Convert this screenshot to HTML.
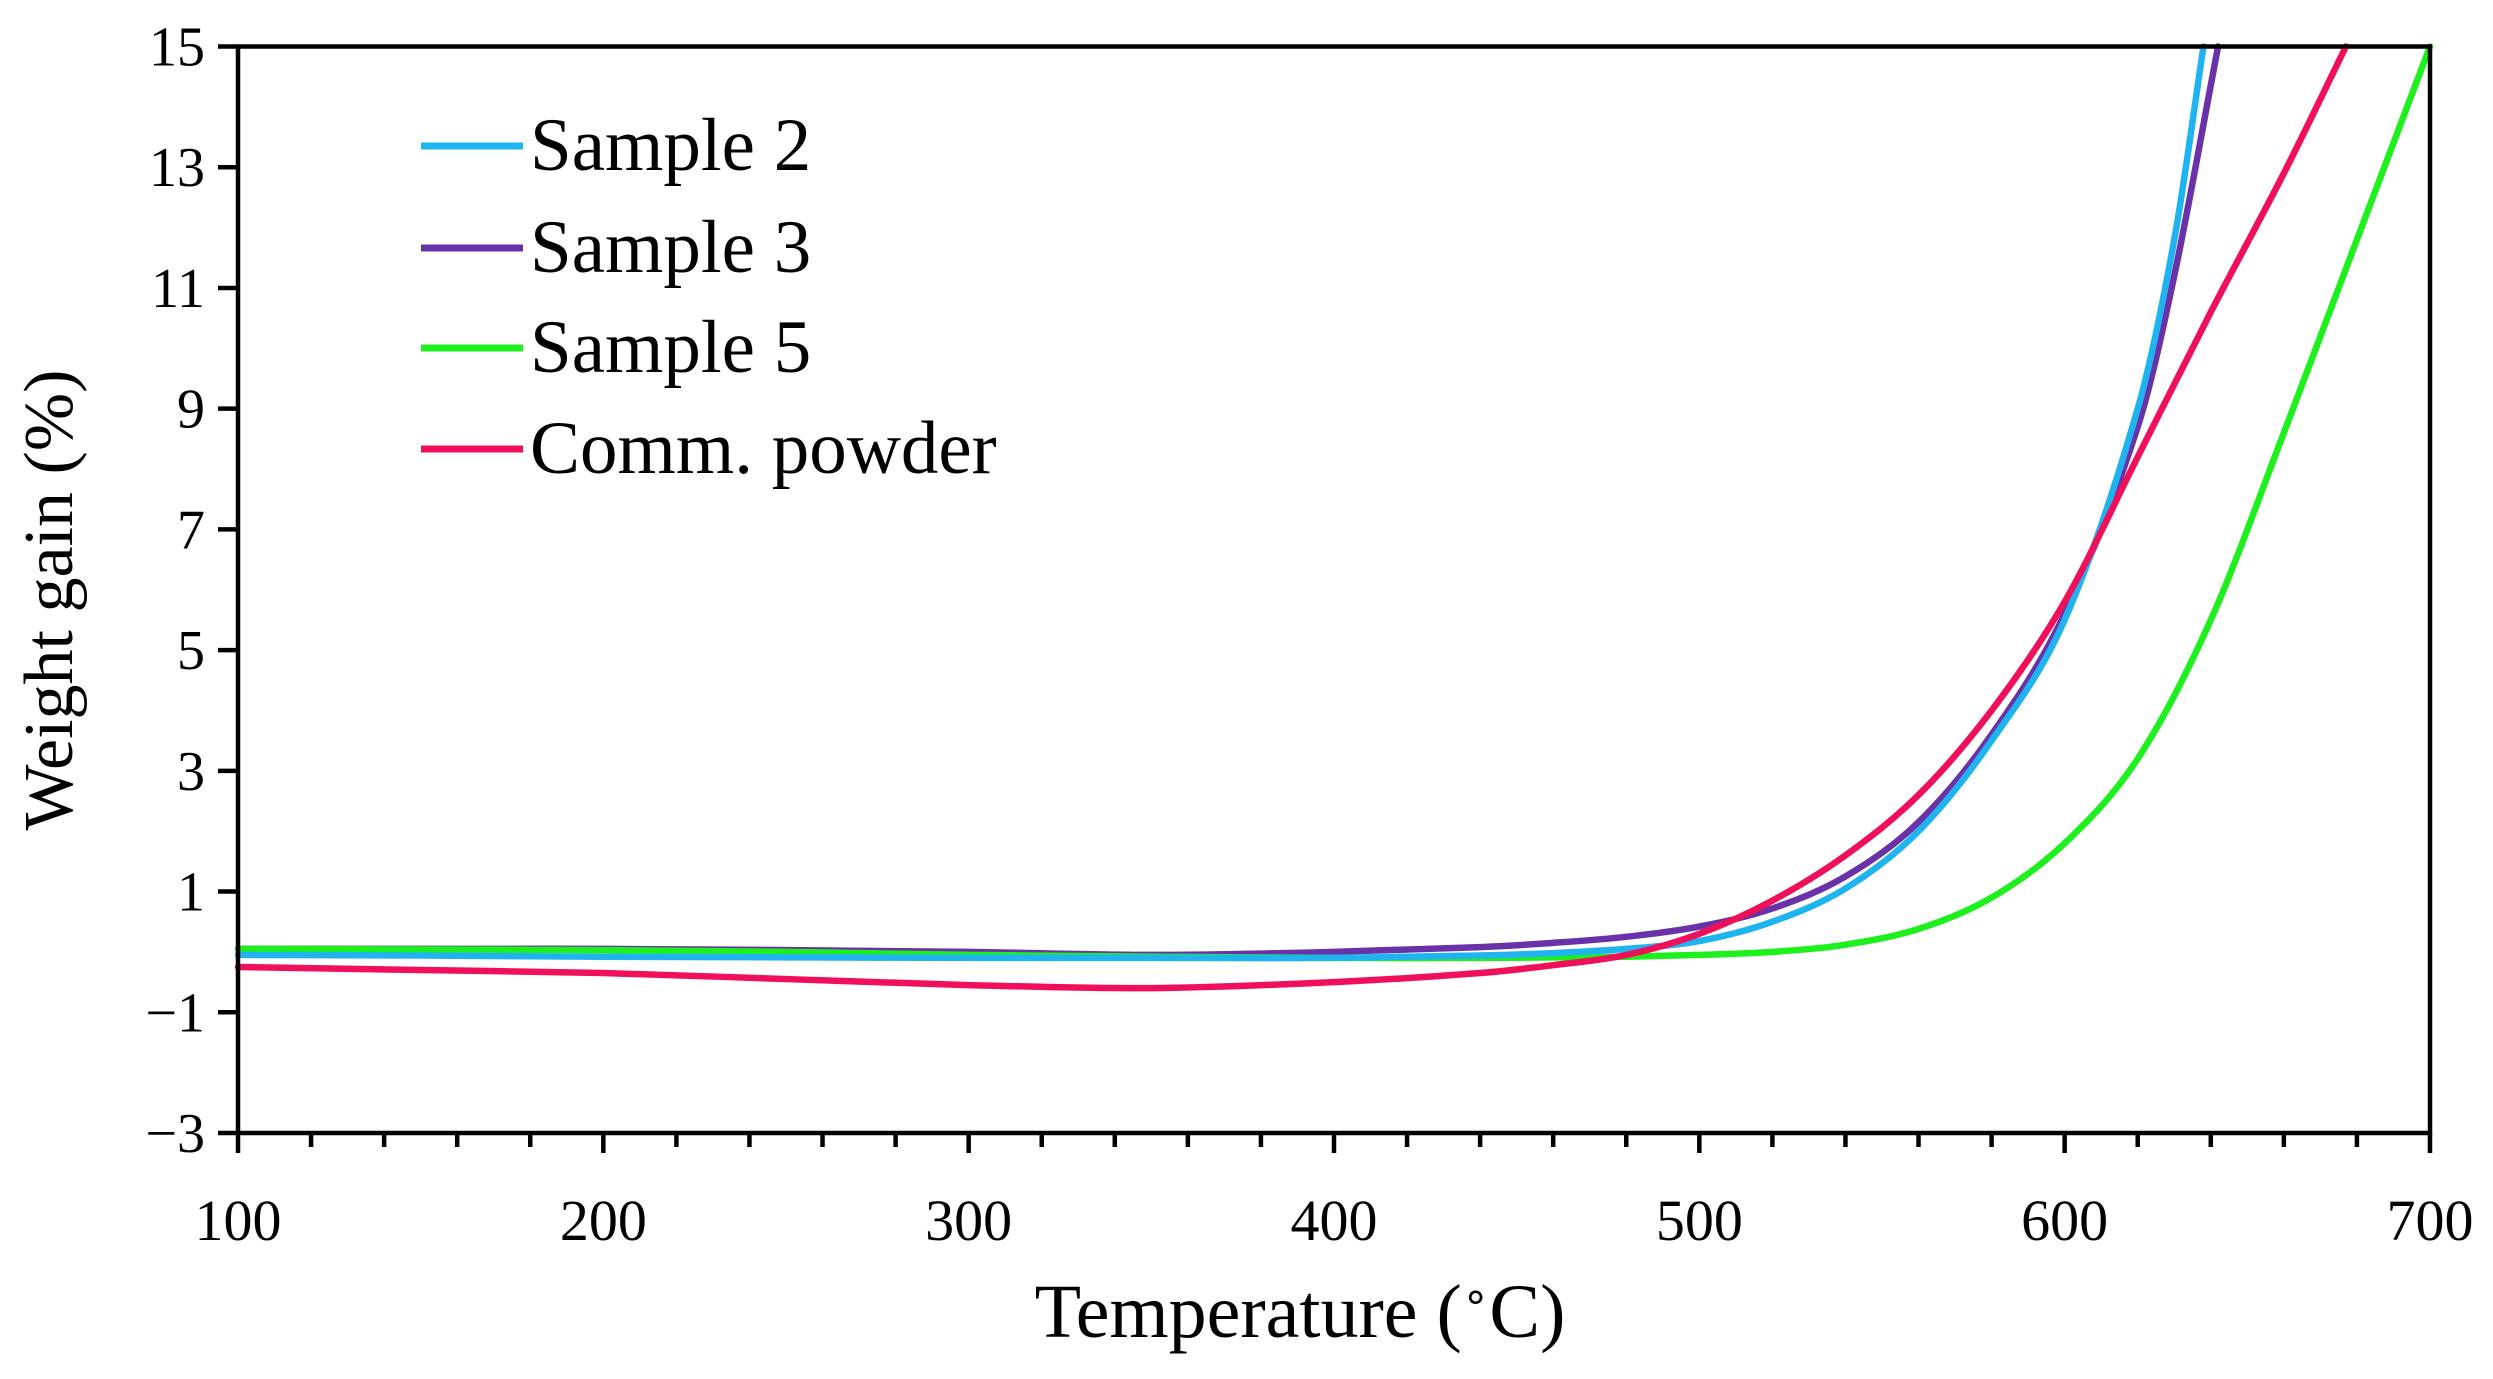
<!DOCTYPE html>
<html><head><meta charset="utf-8"><style>
html,body{margin:0;padding:0;background:#fff;}
svg{display:block;}
text{font-family:"Liberation Serif",serif;fill:#000;}
</style></head><body>
<svg id="s" width="2493" height="1379" xmlns="http://www.w3.org/2000/svg">
<g id="curves" fill="none" stroke-width="6.5" stroke-linejoin="round" stroke-linecap="round"></g>
<g stroke="#000" stroke-width="4.5" fill="none">
<rect x="238" y="46.5" width="2192" height="1086.5"/>
</g>
<g id="ticks" stroke="#000" stroke-width="4.5"></g>
<g font-size="56" text-anchor="end" id="ylab"></g>
<g font-size="58" text-anchor="middle" id="xlab"></g>
<text x="1300" y="1337" font-size="76" text-anchor="middle">Temperature (<tspan font-size="44" dy="-26">∘</tspan><tspan dy="26">C)</tspan></text>
<text transform="translate(72,600) rotate(-90)" font-size="70" text-anchor="middle">Weight gain (%)</text>
<g stroke-width="7">
<line x1="421" y1="146" x2="523" y2="146" stroke="#1fb4f0"/>
<line x1="421" y1="248" x2="523" y2="248" stroke="#6a32a8"/>
<line x1="421" y1="348" x2="523" y2="348" stroke="#1ef01e"/>
<line x1="421" y1="449" x2="523" y2="449" stroke="#f0105a"/>
</g>
<g font-size="75">
<text x="530" y="170">Sample 2</text>
<text x="530" y="272">Sample 3</text>
<text x="530" y="372">Sample 5</text>
<text x="530" y="473">Comm. powder</text>
</g>
</svg>
<script>
var X=function(t){return 238+(t-100)*3.6533;},Y=function(v){return 46.5+(15-v)*60.36;};
var NS="http://www.w3.org/2000/svg";
function el(p,n,a){var e=document.createElementNS(NS,n);for(var k in a)e.setAttribute(k,a[k]);p.appendChild(e);return e;}
var tk=document.getElementById("ticks"),yl=document.getElementById("ylab"),xl=document.getElementById("xlab");
for(var v=-3;v<=15;v+=2){el(tk,"line",{x1:218,x2:238,y1:Y(v),y2:Y(v)});var t=el(yl,"text",{x:205,y:Y(v)+19});t.textContent=(v<0?"\u2212"+(-v):v);}
for(var T=100;T<=700;T+=20){var maj=(T%100==0);el(tk,"line",{x1:X(T),x2:X(T),y1:1133,y2:maj?1153:1147});if(maj){var t=el(xl,"text",{x:X(T),y:1240});t.textContent=T;}}
var data={
"#6a32a8":[[100,0.05],[150,0.05],[200,0.05],[250,0.03],[300,0.0],[350,-0.05],[400,0.0],[440,0.08],[460,0.15],[480,0.25],[500,0.42],[520,0.72],[540,1.25],[560,2.15],[580,3.6],[600,5.6],[620,8.7],[630,11.2],[642,15]],
"#1ef01e":[[100,0.05],[150,0.04],[200,0.03],[250,0.0],[300,-0.05],[350,-0.08],[400,-0.1],[440,-0.1],[460,-0.09],[480,-0.08],[500,-0.05],[520,0.0],[540,0.12],[560,0.38],[580,0.9],[600,1.8],[620,3.2],[640,5.5],[660,8.6],[680,11.8],[700,15]],
"#1fb4f0":[[100,-0.05],[150,-0.06],[200,-0.08],[250,-0.09],[300,-0.1],[350,-0.1],[400,-0.1],[440,-0.06],[460,-0.02],[480,0.05],[500,0.18],[520,0.5],[540,1.05],[560,2.0],[580,3.5],[600,5.5],[620,9.0],[630,11.8],[638,15]],
"#f0105a":[[100,-0.25],[150,-0.3],[200,-0.35],[250,-0.45],[300,-0.55],[350,-0.6],[400,-0.5],[440,-0.35],[460,-0.22],[480,-0.05],[500,0.3],[520,0.85],[540,1.6],[560,2.6],[580,4.0],[600,5.8],[620,8.2],[640,10.6],[660,12.9],[677,15]]};
var g=document.getElementById("curves");
function spl(pts){var n=pts.length,xs=pts.map(function(p){return p[0]}),ys=pts.map(function(p){return p[1]}),m=[];
m[0]=(ys[1]-ys[0])/(xs[1]-xs[0]);m[n-1]=(ys[n-1]-ys[n-2])/(xs[n-1]-xs[n-2]);
for(var i=1;i<n-1;i++)m[i]=(ys[i+1]-ys[i-1])/(xs[i+1]-xs[i-1]);
var s="M"+X(xs[0])+","+Y(ys[0]);
for(i=0;i<n-1;i++){var h=xs[i+1]-xs[i];s+=" C"+X(xs[i]+h/3)+","+Y(ys[i]+m[i]*h/3)+" "+X(xs[i+1]-h/3)+","+Y(ys[i+1]-m[i+1]*h/3)+" "+X(xs[i+1])+","+Y(ys[i+1]);}
return s;}
for(var c in data){el(g,"path",{d:spl(data[c]),stroke:c});}
</script>
</body></html>
